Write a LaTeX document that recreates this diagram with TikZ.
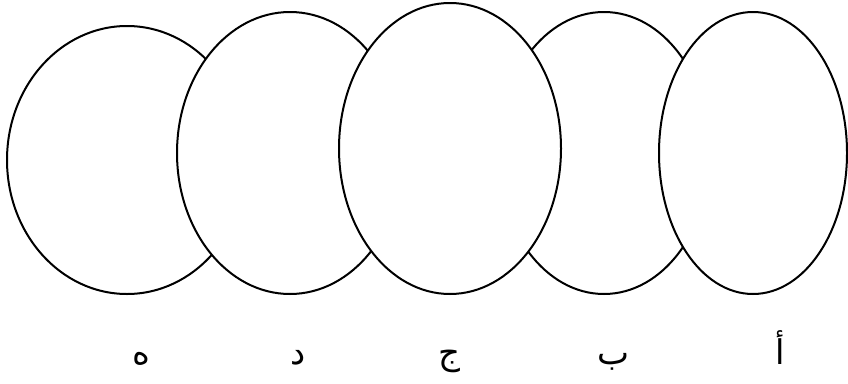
\documentclass[tikz,border=0pt]{standalone}
\usepackage{fontspec}
\newfontfamily\arabicfont[Script=Arabic]{DejaVu Sans}
\TeXXeTstate=1
\begin{document}
\begin{tikzpicture}[x=1pt,y=-1pt,
  oval/.style={draw=black,fill=white,line width=2pt},
  lbl/.style={anchor=base,inner sep=0pt,font=\arabicfont\fontsize{34}{40}\selectfont}]
\useasboundingbox (0,0) rectangle (848,383);
\filldraw[oval] (127,160) ellipse [x radius=120pt, y radius=134pt];
\filldraw[oval] (290,153) ellipse [x radius=113pt, y radius=141pt];
\filldraw[oval] (604,153) ellipse [x radius=106pt, y radius=141pt];
\filldraw[oval] (450,148.5) ellipse [x radius=111pt, y radius=145.5pt];
\filldraw[oval] (753,153) ellipse [x radius=94pt, y radius=141pt];
\node[lbl] (h) at (141,364) {\beginR ه\endR};
\node[lbl] (d) at (298,364) {\beginR د\endR};
\node[lbl] (j) at (449,364) {\beginR ج\endR};
\node[lbl] (b) at (613,364) {\beginR ب\endR};
\node[lbl] (a) at (780,364) {\beginR أ\endR};
\end{tikzpicture}
\end{document}
